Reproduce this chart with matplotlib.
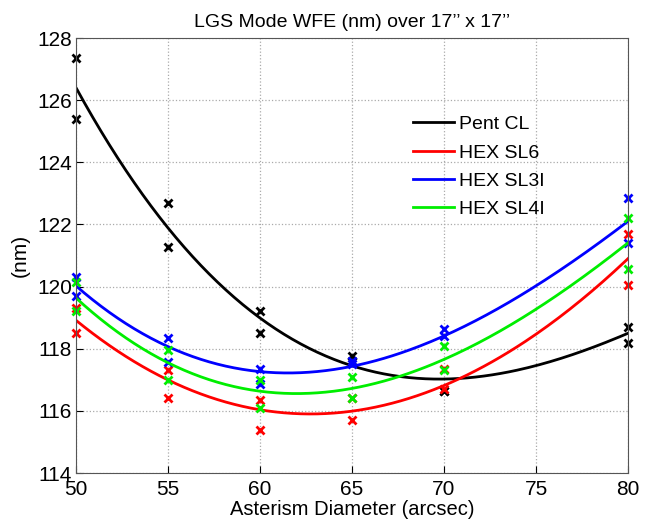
import matplotlib
matplotlib.use('Agg')
import matplotlib.pyplot as plt
import numpy as np

plt.rcParams['font.family'] = ['Liberation Sans', 'DejaVu Sans']

diam = [50, 55, 60, 65, 70, 80]
# two measurements per asterism diameter
pent_cl = [[127.35, 125.4], [122.7, 121.26], [119.2, 118.5], [117.75, 117.6], [116.65, 116.65], [118.7, 118.2]]
hex_sl6 = [[119.3, 118.5], [117.3, 116.4], [116.35, 115.4], [116.4, 115.7], [117.35, 116.7], [121.7, 120.05]]
hex_sl3i = [[120.3, 119.7], [118.35, 117.58], [117.35, 116.85], [117.6, 117.5], [118.65, 118.4], [122.85, 121.4]]
hex_sl4i = [[120.15, 119.2], [117.97, 117.0], [117.0, 116.1], [117.1, 116.4], [118.1, 117.3], [122.2, 120.55]]

# trend values at each diameter
pent_cl_fit = [126.4, 121.9, 118.95, 117.5, 117.0, 118.5]
hex_sl6_fit = [118.9, 117.05, 115.95, 116.05, 116.8, 120.9]
hex_sl3i_fit = [120.0, 118.15, 117.15, 117.5, 118.4, 122.1]
hex_sl4i_fit = [119.6, 117.65, 116.55, 116.7, 117.7, 121.4]

names = ['Pent CL', 'HEX SL6', 'HEX SL3I', 'HEX SL4I']
colors = ['black', '#ff0000', '#0000ff', '#00ee00']
series = [pent_cl, hex_sl6, hex_sl3i, hex_sl4i]
fits = [pent_cl_fit, hex_sl6_fit, hex_sl3i_fit, hex_sl4i_fit]

fig = plt.figure(figsize=(6.52, 5.23), dpi=100)
ax = fig.add_axes([0.1166, 0.0956, 0.8466, 0.8317])

xfit = np.linspace(50, 80, 200)
for name, c, s, f in zip(names, colors, series, fits):
    coef = np.polyfit(diam, f, 3)
    ax.plot(xfit, np.polyval(coef, xfit), color=c, lw=2, label=name)
    xs = np.repeat(diam, 2)
    ys = np.array(s).ravel()
    ax.plot(xs, ys, 'x', color=c, ms=6, mew=2, clip_on=False)

ax.set_xlim(50, 80)
ax.set_ylim(114, 128)
ax.set_xticks(range(50, 81, 5))
ax.set_yticks(range(114, 129, 2))
ax.tick_params(direction='in', labelsize=15, length=5)
ax.tick_params(axis='y', pad=3)
ax.tick_params(axis='x', pad=5)
ax.grid(True, linestyle=':', color='#aaaaaa', lw=0.9)
for sp in ax.spines.values():
    sp.set_color('#555555')
ax.set_xlabel('Asterism Diameter (arcsec)', fontsize=14.5, labelpad=1)
ax.set_ylabel('(nm)', fontsize=15, labelpad=5)
ax.set_title("LGS Mode WFE (nm) over 17\u2019\u2019 x 17\u2019\u2019", fontsize=14, pad=8)
ax.legend(loc='upper left', bbox_to_anchor=(0.607, 0.8124), bbox_transform=fig.transFigure,
          frameon=False, fontsize=14, handlelength=2.1, handletextpad=0.25, labelspacing=0.55)

fig.savefig('out.png', dpi=100)
